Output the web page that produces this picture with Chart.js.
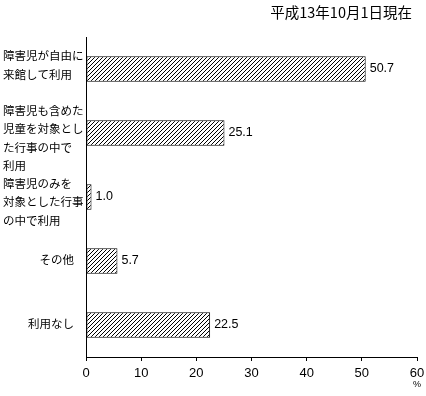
<!DOCTYPE html>
<html>
<head>
<meta charset="utf-8">
<script src="https://cdn.jsdelivr.net/npm/chart.js@4/dist/chart.umd.min.js"></script>
<style>
  body { margin: 0; background: #fff; }
  canvas { display: block; }
</style>
</head>
<body>
<canvas id="chart" width="426" height="396"></canvas>
<script>
// Datos del gráfico
const categories = [
    ['障害児が自由に', '来館して利用'],
    ['障害児も含めた', '児童を対象とし', 'た行事の中で', '利用'],
    ['障害児のみを', '対象とした行事', 'の中で利用'],
    'その他',
    '利用なし'
];
const values = [50.7, 25.1, 1.0, 5.7, 22.5];
const xTicks = [0, 10, 20, 30, 40, 50, 60];
const titleText = '平成13年10月1日現在';
const unitText = '%';

const cjkFont = '"Noto Sans CJK JP", sans-serif';
const latinFont = '"Liberation Sans", Arial, sans-serif';

// Trama diagonal de las barras
function makeHatch() {
    const c = document.createElement('canvas');
    c.width = 4;
    c.height = 4;
    const g = c.getContext('2d');
    g.fillStyle = '#fff';
    g.fillRect(0, 0, 4, 4);
    g.fillStyle = '#000';
    for (let i = 0; i < 4; i++) {
        g.fillRect(i, 3 - i, 1, 1);
    }
    return g.createPattern(c, 'repeat');
}

// Etiquetas, valores, título y unidad
const textPlugin = {
    id: 'texts',
    afterDraw(chart) {
        const ctx = chart.ctx;
        const yScale = chart.scales.y;
        const xScale = chart.scales.x;
        ctx.save();
        ctx.fillStyle = '#000';
        ctx.textBaseline = 'middle';

        // etiquetas de categoría (las de varias líneas van alineadas a la izquierda)
        ctx.font = '11.5px ' + cjkFont;
        categories.forEach((label, i) => {
            const cy = yScale.getPixelForValue(i);
            if (Array.isArray(label)) {
                const lh = 18.5;
                const shift = label.length > 2 ? 5 : -4;
                const start = cy + shift - (label.length - 1) * lh / 2;
                ctx.textAlign = 'left';
                label.forEach((line, j) => ctx.fillText(line, 3, start + j * lh));
            } else {
                ctx.textAlign = 'right';
                ctx.fillText(label, 74, cy - 1);
            }
        });

        // valores
        ctx.font = '12.5px ' + latinFont;
        ctx.textAlign = 'left';
        chart.getDatasetMeta(0).data.forEach((bar, i) => {
            ctx.fillText(values[i].toFixed(1), bar.x + 4, bar.y);
        });

        // título
        ctx.font = '14.5px ' + cjkFont;
        ctx.textAlign = 'right';
        ctx.fillText(titleText, 412, 12);

        // unidad
        ctx.font = '9px ' + latinFont;
        ctx.textAlign = 'center';
        ctx.fillText(unitText, xScale.getPixelForValue(xTicks[xTicks.length - 1]), 385);
        ctx.restore();
    }
};

const ctx = document.getElementById('chart').getContext('2d');
const chart = new Chart(ctx, {
    type: 'bar',
    data: {
        labels: categories,
        datasets: [{
            data: values,
            backgroundColor: makeHatch(),
            borderColor: '#000',
            borderWidth: 1,
            borderSkipped: false,
            barPercentage: 0.4,
            categoryPercentage: 1
        }]
    },
    options: {
        indexAxis: 'y',
        responsive: false,
        animation: false,
        layout: { padding: { top: 37, right: 9, left: 0, bottom: 0 } },
        plugins: {
            legend: { display: false },
            tooltip: { enabled: false }
        },
        scales: {
            y: {
                type: 'category',
                ticks: { display: false },
                grid: { display: false },
                border: { color: '#000', width: 1 },
                afterFit(scale) { scale.width = 86; }
            },
            x: {
                min: 0,
                max: 60,
                afterBuildTicks(scale) {
                    scale.ticks = xTicks.map(v => ({ value: v }));
                },
                ticks: {
                    color: '#000',
                    padding: 5,
                    font: { family: latinFont, size: 13 }
                },
                grid: {
                    drawOnChartArea: false,
                    drawTicks: true,
                    tickLength: 4,
                    color: '#000'
                },
                border: { color: '#000', width: 1 },
                afterFit(scale) {
                    scale.height = 39;
                    scale.paddingRight = 0;
                }
            }
        }
    },
    plugins: [textPlugin]
});
</script>
</body>
</html>
